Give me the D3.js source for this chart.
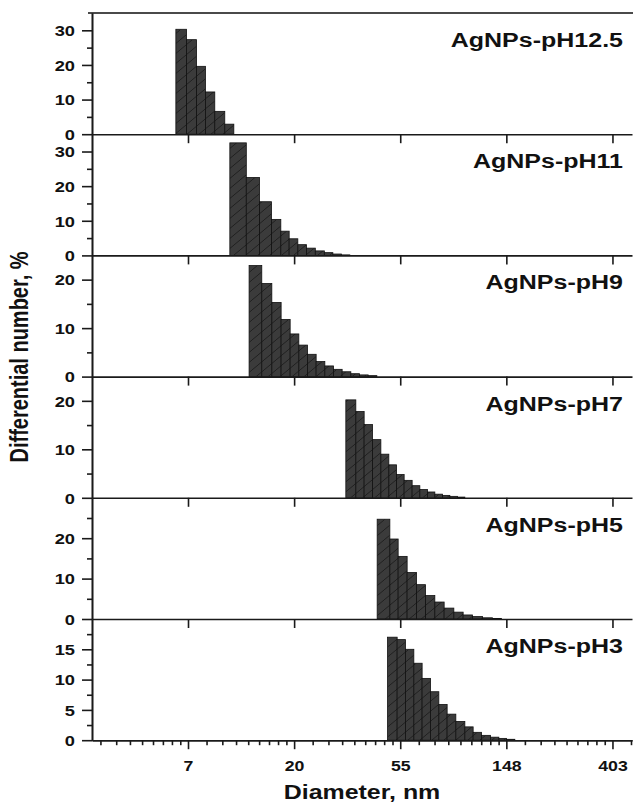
<!DOCTYPE html>
<html>
<head>
<meta charset="utf-8">
<script src="https://cdn.jsdelivr.net/npm/d3@7"></script>
<style>
body { margin: 0; background: #fff; }
svg text { font-family: "Liberation Sans", Arial, sans-serif; font-weight: bold; fill: #111; }
</style>
</head>
<body>
<script>
(function() {

"use strict";

// one panel per pH, top to bottom
const LABELS = ["AgNPs-pH12.5", "AgNPs-pH11", "AgNPs-pH9", "AgNPs-pH7", "AgNPs-pH5", "AgNPs-pH3"];
const Y_MAX  = [35, 35, 25, 25, 30, 20];
const Y_STEP = [10, 10, 10, 10, 10, 5];

// bin edges (nm) and differential number (%)
const EDGES_PH125 = [6.59, 7.29, 8.01, 8.71, 9.51, 10.45, 11.38];
const COUNT_PH125 = [30.3, 27.3, 19.6, 12.2, 6.6, 2.9];

const EDGES_PH11 = [10.96, 12.80, 14.50, 16.23, 17.72, 19.17, 20.80, 22.58, 24.53, 26.71, 28.94, 31.35, 33.96];
const COUNT_PH11 = [32.5, 22.5, 15.5, 10.4, 7.0, 4.8, 3.1, 2.1, 1.3, 0.8, 0.4, 0.15];

const EDGES_PH9 = [13.14, 14.81, 16.28, 17.77, 19.35, 21.00, 22.79, 24.72, 26.83, 29.12, 31.58, 34.28, 37.21, 40.36, 43.81];
const COUNT_PH9 = [22.9, 19.2, 15.3, 11.8, 8.8, 6.5, 4.6, 3.1, 2.2, 1.5, 1.0, 0.6, 0.35, 0.2];

const EDGES_PH7 = [32.70, 35.93, 38.86, 42.06, 45.49, 49.04, 52.74, 56.65, 61.08, 65.68, 70.62, 75.65, 81.35, 87.14, 93.69, 100.38];
const COUNT_PH7 = [20.2, 17.8, 15.1, 12.0, 9.0, 6.8, 4.8, 3.6, 2.5, 1.7, 1.2, 0.75, 0.5, 0.3, 0.15];

const EDGES_PH5 = [43.93, 49.51, 53.54, 58.27, 63.66, 69.30, 75.65, 82.59, 90.49, 98.78, 107.92, 118.60, 130.31, 141.86];
const COUNT_PH5 = [24.7, 19.8, 15.5, 11.5, 8.5, 5.8, 4.2, 2.7, 1.7, 1.0, 0.6, 0.3, 0.15];

const EDGES_PH3 = [48.45, 53.04, 57.39, 62.07, 67.11, 72.65, 78.56, 84.95, 92.21, 100.38, 108.54, 117.49, 127.88, 138.29, 148.70, 160.79];
const COUNT_PH3 = [17.0, 16.6, 15.0, 12.7, 10.2, 8.0, 5.9, 4.3, 3.1, 2.2, 1.3, 0.8, 0.5, 0.3, 0.15];

// ln axis: majors at e^2 .. e^6
const X_TICK_POWERS = [2, 3, 4, 5, 6];
const X_TICK_LABELS = ["7", "20", "55", "148", "403"];

const panels = [
	{edges: EDGES_PH125, counts: COUNT_PH125},
	{edges: EDGES_PH11,  counts: COUNT_PH11},
	{edges: EDGES_PH9,   counts: COUNT_PH9},
	{edges: EDGES_PH7,   counts: COUNT_PH7},
	{edges: EDGES_PH5,   counts: COUNT_PH5},
	{edges: EDGES_PH3,   counts: COUNT_PH3},
].map((p, i) => ({...p, label: LABELS[i], max: Y_MAX[i], step: Y_STEP[i]}));

const W = 633, H = 812;
const left = 92, right = 632, top = 13, panelH = 121.2;
const SX = 1.26; // the source figure is stretched sideways

const svg = d3.select("body").append("svg")
	.attr("width", W)
	.attr("height", H);

svg.append("rect").attr("width", W).attr("height", H).attr("fill", "#fff");

let pat = svg.append("defs").append("pattern")
	.attr("id", "hatch")
	.attr("patternUnits", "userSpaceOnUse")
	.attr("width", 12)
	.attr("height", 10);
pat.append("rect").attr("width", 12).attr("height", 10).attr("fill", "#3b3b3b");
pat.append("path")
	.attr("d", "M-3,12.5L15,-2.5")
	.attr("stroke", "#1c1c1c")
	.attr("stroke-width", 0.9);

const x = d3.scaleLog().base(Math.E).domain([2.99, 485]).range([left, right]);

const majorX = X_TICK_POWERS.map(p => Math.exp(p));
let minorX = [];
for (let p = 1; p < 7; p++) {
	let a = Math.exp(p), b = Math.exp(p + 1);
	for (let k = 1; k < 9; k++) {
		let v = a + k * (b - a) / 9;
		if (v > x.domain()[0] && v < x.domain()[1])
			minorX.push(v);
	}
}

function styleAxis(g) {
	g.attr("font-family", null).attr("font-size", null);
	g.selectAll("path, line").attr("stroke", "#1a1a1a").attr("stroke-width", 1.6);
}

// top frame line
svg.append("line")
	.attr("x1", left - 4).attr("x2", W)
	.attr("y1", top).attr("y2", top)
	.attr("stroke", "#4a4a4a")
	.attr("stroke-width", 2);

panels.forEach((p, i) => {
	let y0 = top + i * panelH, y1 = y0 + panelH;
	let y = d3.scaleLinear().domain([0, p.max]).range([y1, y0]);
	let last = i === panels.length - 1;

	let g = svg.append("g").attr("class", "panel");

	g.append("g").selectAll("rect")
		.data(p.counts)
		.join("rect")
			.attr("x", (d, j) => x(p.edges[j]))
			.attr("width", (d, j) => x(p.edges[j + 1]) - x(p.edges[j]))
			.attr("y", d => y(d))
			.attr("height", d => y(0) - y(d))
			.attr("fill", "url(#hatch)")
			.attr("stroke", "#111")
			.attr("stroke-width", 0.8);

	// left axis, minor then major (no label at the panel top)
	g.append("g")
		.attr("transform", `translate(${left},0)`)
		.call(d3.axisLeft(y).tickValues(d3.range(p.step / 2, p.max, p.step)).tickSize(5).tickSizeOuter(0).tickFormat(""))
		.call(styleAxis);

	let ya = g.append("g")
		.attr("transform", `translate(${left},0)`)
		.call(d3.axisLeft(y).tickValues(d3.range(0, p.max - 0.01, p.step)).tickSize(10).tickSizeOuter(0))
		.call(styleAxis);
	ya.selectAll("text")
		.attr("font-size", 14.5)
		.attr("x", -17 / SX)
		.attr("dy", "0.36em")
		.attr("transform", `scale(${SX},1)`);

	// bottom line of the panel with major ticks
	let xa = g.append("g")
		.attr("transform", `translate(0,${y1})`)
		.call(d3.axisBottom(x).tickValues(majorX).tickSize(9).tickSizeOuter(0)
			.tickFormat((d, j) => last ? X_TICK_LABELS[j] : ""))
		.call(styleAxis);

	if (last) {
		g.append("g")
			.attr("transform", `translate(0,${y1})`)
			.call(d3.axisBottom(x).tickValues(minorX).tickSize(5).tickSizeOuter(0).tickFormat(""))
			.call(styleAxis);
		xa.selectAll("text")
			.attr("font-size", 14.5)
			.attr("y", 31)
			.attr("dy", 0)
			.attr("transform", `scale(${SX * 0.97},1)`);
	}

	g.append("text")
		.attr("transform", `translate(623,${y0 + 34}) scale(1.22,1)`)
		.attr("text-anchor", "end")
		.attr("font-size", 20.5)
		.text(p.label);
});

svg.append("text")
	.attr("transform", `translate(362,799) scale(1.28,1)`)
	.attr("text-anchor", "middle")
	.attr("font-size", 19.5)
	.text("Diameter, nm");

svg.append("text")
	.attr("transform", `translate(28,357) scale(1.25,1) rotate(-90)`)
	.attr("text-anchor", "middle")
	.attr("font-size", 20)
	.text("Differential number, %");

})();
</script>
</body>
</html>
